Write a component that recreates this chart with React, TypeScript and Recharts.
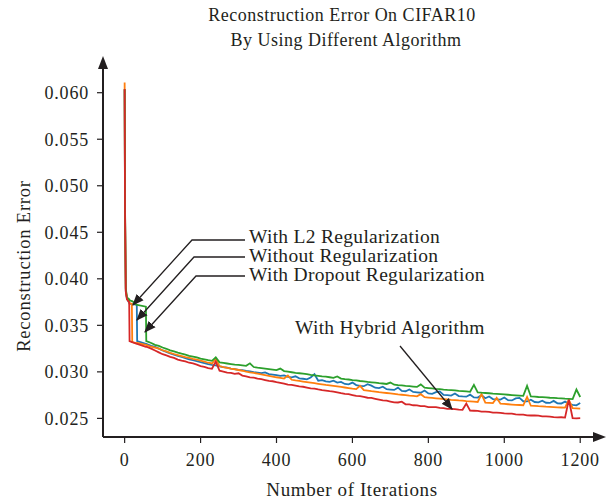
import { LineChart, Line, XAxis, YAxis } from 'recharts';

// iterations sampled from the training curves
const ITERS = [
  0, 1, 3, 6, 12, 13, 19, 20, 32, 33, 56, 57, 70, 80, 90,
  100, 110, 120, 130, 140, 150, 160, 170, 180, 190, 200, 210, 220, 230, 240,
  250, 260, 270, 280, 290, 300, 310, 320, 330, 340, 350, 360, 370, 380, 390,
  400, 410, 420, 430, 440, 450, 460, 470, 480, 490, 500, 510, 520, 530, 540,
  550, 560, 570, 580, 590, 600, 610, 620, 630, 640, 650, 660, 670, 680, 690,
  700, 710, 720, 730, 740, 750, 760, 770, 780, 790, 800, 810, 820, 830, 840,
  850, 860, 870, 880, 890, 900, 910, 920, 930, 940, 950, 960, 970, 980, 990,
  1000, 1010, 1020, 1030, 1040, 1050, 1060, 1070, 1080, 1090, 1100, 1110, 1120, 1130, 1140,
  1150, 1160, 1170, 1180, 1190, 1200,
];

const WITHOUT_REG = [
  0.0603, 0.0475, 0.0387, 0.0379, 0.0374, 0.0373, 0.0373, 0.0373, 0.0372, 0.0333, 0.033, 0.033, 0.0328, 0.0327, 0.0325,
  0.0323, 0.03215, 0.03198, 0.03185, 0.03172, 0.0316, 0.03148, 0.03135, 0.03126, 0.03115, 0.03104, 0.03095, 0.03084, 0.03076, 0.0307,
  0.03058, 0.0305, 0.03045, 0.03035, 0.0303, 0.03022, 0.03018, 0.0301, 0.03005, 0.02998, 0.02992, 0.02986, 0.02994, 0.02976, 0.0297,
  0.02964, 0.02958, 0.02962, 0.02946, 0.0294, 0.02952, 0.0293, 0.02926, 0.0292, 0.0294, 0.02975, 0.02905, 0.02912, 0.02898, 0.02893,
  0.02905, 0.02884, 0.02892, 0.0287, 0.02866, 0.02885, 0.02858, 0.0285, 0.02846, 0.02868, 0.02852, 0.0283, 0.02826, 0.0284, 0.02814,
  0.0281, 0.02806, 0.0283, 0.02796, 0.02792, 0.0281, 0.02784, 0.0278, 0.02776, 0.028, 0.02768, 0.02764, 0.02782, 0.0279, 0.02752,
  0.0275, 0.02745, 0.02768, 0.0274, 0.02736, 0.02733, 0.02755, 0.02726, 0.02724, 0.0275, 0.02716, 0.02735, 0.02708, 0.02705, 0.02702,
  0.02725, 0.02696, 0.02693, 0.02715, 0.0272, 0.02684, 0.02682, 0.027, 0.02676, 0.02673, 0.0269, 0.02668, 0.02666, 0.02688, 0.02662,
  0.0266, 0.0268, 0.02656, 0.02646, 0.0264, 0.02665,
];

const L2_REG = [
  0.0611, 0.048, 0.0388, 0.038, 0.0375, 0.0374, 0.0373, 0.0332, 0.0331, 0.0331, 0.0329, 0.0329, 0.0327, 0.0326, 0.0325,
  0.03232, 0.0322, 0.03205, 0.03192, 0.03181, 0.0317, 0.03158, 0.0315, 0.0314, 0.03131, 0.0312, 0.0311, 0.03098, 0.0309, 0.0314,
  0.03062, 0.03052, 0.03043, 0.03034, 0.03028, 0.0302, 0.03012, 0.03002, 0.02994, 0.02988, 0.0298, 0.02972, 0.02965, 0.02958, 0.0295,
  0.02942, 0.02935, 0.02928, 0.0296, 0.02915, 0.02908, 0.02902, 0.02896, 0.0289, 0.02884, 0.02878, 0.02872, 0.02866, 0.0286, 0.02855,
  0.0285, 0.02844, 0.02838, 0.02832, 0.02826, 0.0282, 0.02815, 0.0285, 0.02804, 0.02798, 0.02792, 0.02787, 0.02782, 0.02778, 0.02773,
  0.02768, 0.02763, 0.02758, 0.02754, 0.0275, 0.02745, 0.02741, 0.02737, 0.0276, 0.02728, 0.02724, 0.0272, 0.02716, 0.02712, 0.02708,
  0.02704, 0.027, 0.02697, 0.02693, 0.0269, 0.02686, 0.02683, 0.0268, 0.02676, 0.0276, 0.0267, 0.02667, 0.02664, 0.0272, 0.02658,
  0.02655, 0.02652, 0.02649, 0.02646, 0.02644, 0.02641, 0.0273, 0.02636, 0.02634, 0.02631, 0.02629, 0.02626, 0.02624, 0.02622, 0.02619,
  0.02617, 0.02615, 0.027, 0.0261, 0.02608, 0.02605,
];

const DROPOUT_REG = [
  0.0604, 0.0478, 0.039, 0.038, 0.0378, 0.0377, 0.0376, 0.0376, 0.0372, 0.0372, 0.037, 0.0333, 0.0331, 0.0329, 0.0328,
  0.03262, 0.03248, 0.03232, 0.0322, 0.03206, 0.03195, 0.03185, 0.03172, 0.03165, 0.03155, 0.03142, 0.03135, 0.03125, 0.03118, 0.03155,
  0.03102, 0.03096, 0.0309, 0.03084, 0.03078, 0.03075, 0.0307, 0.03065, 0.03092, 0.03052, 0.03045, 0.0304, 0.03035, 0.0303, 0.03024,
  0.03018, 0.03035, 0.03008, 0.03002, 0.02996, 0.0299, 0.02985, 0.0298, 0.02975, 0.02968, 0.02962, 0.02958, 0.02952, 0.02948, 0.02942,
  0.02936, 0.0295, 0.02928, 0.02922, 0.02918, 0.02912, 0.02908, 0.02902, 0.02898, 0.02892, 0.02888, 0.02884, 0.02878, 0.02875, 0.0287,
  0.02885, 0.02862, 0.02858, 0.02855, 0.0285, 0.02846, 0.02842, 0.02838, 0.02865, 0.0283, 0.02826, 0.02822, 0.02818, 0.02815, 0.0281,
  0.02806, 0.02803, 0.028, 0.02796, 0.02793, 0.0279, 0.02786, 0.0286, 0.0278, 0.02776, 0.02773, 0.0277, 0.02766, 0.02763, 0.0276,
  0.02757, 0.02754, 0.02751, 0.02748, 0.02745, 0.02742, 0.0285, 0.02736, 0.02733, 0.0273, 0.02728, 0.02725, 0.02722, 0.0272, 0.02717,
  0.02715, 0.02712, 0.0271, 0.02708, 0.0281, 0.0273,
];

const HYBRID = [
  0.0604, 0.047, 0.0386, 0.0378, 0.0375, 0.0333, 0.0332, 0.0332, 0.033, 0.033, 0.0327, 0.0327, 0.0325, 0.0323, 0.0321,
  0.0319, 0.03178, 0.03162, 0.0315, 0.03132, 0.03121, 0.03112, 0.03098, 0.0309, 0.03078, 0.03062, 0.03054, 0.03041, 0.03033, 0.0311,
  0.03012, 0.03003, 0.02992, 0.0299, 0.02978, 0.02985, 0.0296, 0.02952, 0.02941, 0.02938, 0.02928, 0.02921, 0.02912, 0.02903, 0.02899,
  0.0289, 0.02882, 0.02874, 0.02862, 0.0286, 0.02852, 0.02843, 0.0284, 0.02831, 0.02822, 0.0282, 0.02811, 0.02803, 0.02798, 0.02792,
  0.02788, 0.0278, 0.02771, 0.02763, 0.0276, 0.02751, 0.02742, 0.0274, 0.02731, 0.02722, 0.0272, 0.02711, 0.02702, 0.02693, 0.0269,
  0.02681, 0.02672, 0.02671, 0.0268, 0.02652, 0.0265, 0.02641, 0.0264, 0.02632, 0.02631, 0.02622, 0.0262, 0.02621, 0.02612, 0.02611,
  0.02602, 0.02603, 0.026, 0.02594, 0.02592, 0.0266, 0.02583, 0.02582, 0.0258, 0.02573, 0.02572, 0.0257, 0.02563, 0.02562, 0.0256,
  0.02553, 0.02551, 0.02552, 0.02543, 0.02541, 0.0254, 0.02533, 0.02531, 0.02532, 0.0253, 0.02521, 0.02522, 0.0252, 0.02513, 0.02511,
  0.02512, 0.02508, 0.027, 0.02503, 0.025, 0.02502,
];

const X_TICKS = [0, 200, 400, 600, 800, 1000, 1200];
const Y_TICKS = [0.025, 0.03, 0.035, 0.04, 0.045, 0.05, 0.055, 0.06];

const SERIES = [
  { key: 'without', label: 'Without Regularization', color: '#1f77b4' },
  { key: 'l2', label: 'With L2 Regularization', color: '#ff7f0e' },
  { key: 'dropout', label: 'With Dropout Regularization', color: '#2ca02c' },
  { key: 'hybrid', label: 'With Hybrid Algorithm', color: '#d62728' },
];

const data = ITERS.map((it, i) => ({
  it,
  without: WITHOUT_REG[i],
  l2: L2_REG[i],
  dropout: DROPOUT_REG[i],
  hybrid: HYBRID[i],
}));

const INK = '#231f20';
const FONT = "'Liberation Serif', 'DejaVu Serif', serif";
const tickStyle = { fontSize: 18, fill: INK, fontFamily: FONT, letterSpacing: 0.8 };

export default function App() {
  return (
    <div style={{ position: 'absolute', left: 0, top: 0, width: 606, height: 502, background: '#fff' }}>
      <LineChart width={606} height={502} data={data} margin={{ top: 62, right: 3, left: 0, bottom: 0 }}>
        <XAxis
          dataKey="it"
          type="number"
          domain={[-57, 1260]}
          ticks={X_TICKS}
          allowDataOverflow
          height={65}
          tick={tickStyle}
          tickSize={6}
          tickMargin={10}
          stroke={INK}
          axisLine={{ stroke: INK, strokeWidth: 2 }}
          tickLine={{ stroke: INK, strokeWidth: 1.2 }}
        />
        <YAxis
          type="number"
          domain={[0.023, 0.0633]}
          ticks={Y_TICKS}
          allowDataOverflow
          width={103}
          tick={tickStyle}
          tickFormatter={(v: number) => v.toFixed(3)}
          tickSize={6}
          tickMargin={8}
          stroke={INK}
          axisLine={{ stroke: INK, strokeWidth: 2 }}
          tickLine={{ stroke: INK, strokeWidth: 1.2 }}
        />
        {SERIES.map((s) => (
          <Line
            key={s.key}
            type="linear"
            dataKey={s.key}
            name={s.label}
            stroke={s.color}
            strokeWidth={1.8}
            dot={false}
            isAnimationActive={false}
          />
        ))}
      </LineChart>
      <svg
        width={606}
        height={502}
        style={{ position: 'absolute', left: 0, top: 0, pointerEvents: 'none' }}
        fontFamily={FONT}
        fill={INK}
      >
        <defs>
          <marker id="ah" viewBox="0 0 10 10" refX="9" refY="5" markerWidth="9" markerHeight="9" orient="auto">
            <path d="M0,1 L10,5 L0,9 Z" fill={INK} />
          </marker>
        </defs>
        <text x={342} y={21} fontSize={18} textAnchor="middle" letterSpacing={0.5}>
          Reconstruction Error On CIFAR10
        </text>
        <text x={346} y={46} fontSize={18} textAnchor="middle" letterSpacing={0.5}>
          By Using Different Algorithm
        </text>
        <text x={352} y={496} fontSize={19} textAnchor="middle" letterSpacing={0.6}>
          Number of Iterations
        </text>
        <text x={30} y={266} fontSize={18.5} textAnchor="middle" letterSpacing={0.8} transform="rotate(-90 30 266)">
          Reconstruction Error
        </text>
        {/* axis arrow heads */}
        <path d="M103,56 L98,69 L108,69 Z" fill={INK} />
        <path d="M606,437 L593,432 L593,442 Z" fill={INK} />
        {/* annotations */}
        <text x={249} y={243} fontSize={19.5} letterSpacing={0.3}>With L2 Regularization</text>
        <text x={249} y={262} fontSize={19.5} letterSpacing={0.3}>Without Regularization</text>
        <text x={249} y={281} fontSize={19.5} letterSpacing={0.3}>With Dropout Regularization</text>
        <text x={295} y={334} fontSize={19.5} letterSpacing={0.3}>With Hybrid Algorithm</text>
        <g stroke={INK} strokeWidth={1.3} fill="none">
          <polyline points="245,240 192,240 133,305" markerEnd="url(#ah)" />
          <polyline points="245,257 194,257 137,320" markerEnd="url(#ah)" />
          <polyline points="245,276 196,276 145,332" markerEnd="url(#ah)" />
          <polyline points="400,346 452,409" markerEnd="url(#ah)" />
        </g>
      </svg>
    </div>
  );
}
